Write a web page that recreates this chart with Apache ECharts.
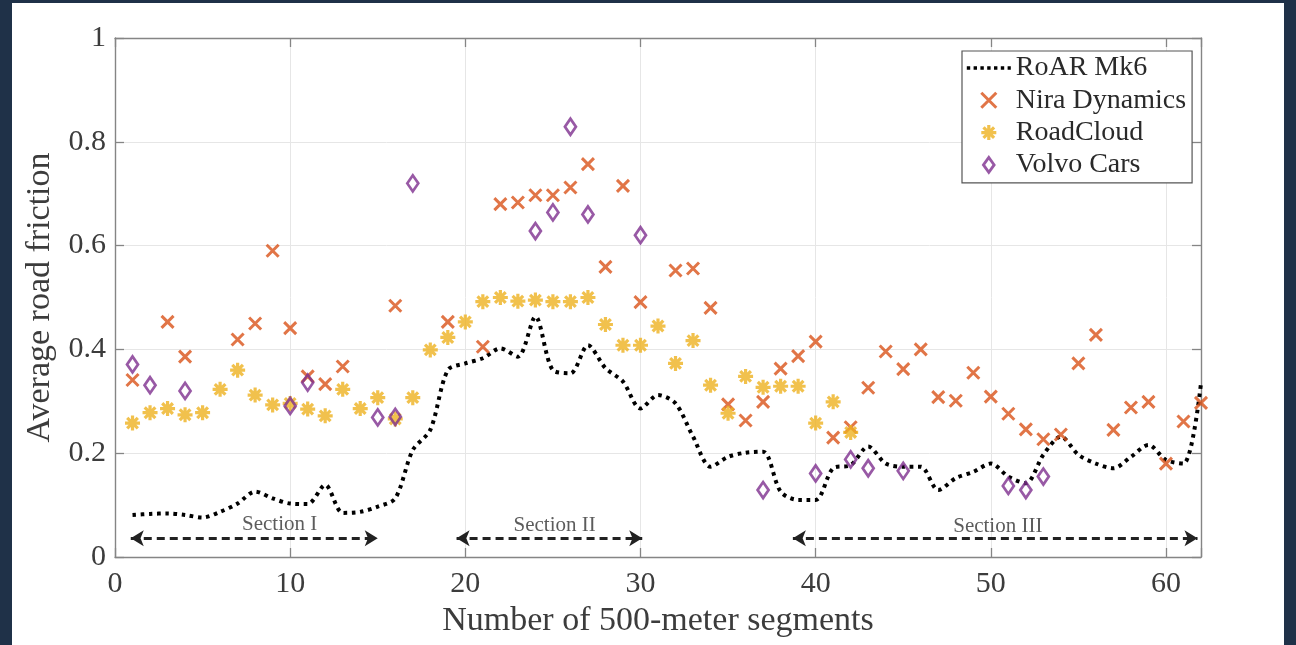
<!DOCTYPE html>
<html>
<head>
<meta charset="utf-8">
<script src="https://cdn.jsdelivr.net/npm/echarts@6/dist/echarts.min.js"></script>
<style>
  html, body { margin: 0; padding: 0; width: 1296px; height: 645px; background: #1f3148; overflow: hidden; }
  #chart { position: absolute; left: 12px; top: 3px; width: 1272px; height: 642px; background: #ffffff; }
</style>
</head>
<body>
<div id="chart"></div>
<script>
// ---- data ----
const xTicks = [0, 10, 20, 30, 40, 50, 60];
const yTicks = [0, 0.2, 0.4, 0.6, 0.8, 1];

const roarMk6 = [
  [1,0.081],[2,0.083],[3,0.084],[4,0.081],[5,0.076],[6,0.087],[7,0.103],[8,0.126],[9,0.113],[10,0.103],
  [11,0.102],[12,0.139],[13,0.085],[14,0.087],[15,0.097],[16,0.113],[17,0.206],[18,0.245],[19,0.360],[20,0.373],
  [21,0.383],[22,0.402],[23,0.386],[24,0.463],[25,0.360],[26,0.354],[27,0.408],[28,0.364],[29,0.338],[30,0.286],
  [31,0.312],[32,0.296],[33,0.232],[34,0.174],[35,0.193],[36,0.201],[37,0.203],[38,0.126],[39,0.110],[40,0.110],
  [41,0.171],[42,0.177],[43,0.213],[44,0.180],[45,0.174],[46,0.174],[47,0.129],[48,0.152],[49,0.164],[50,0.180],
  [51,0.155],[52,0.142],[53,0.197],[54,0.232],[55,0.197],[56,0.180],[57,0.171],[58,0.193],[59,0.216],[60,0.187],
  [61,0.180],[62,0.335]
];

const niraDynamics = [
  [1,0.341],[3,0.453],[4,0.386],[7,0.419],[8,0.450],[9,0.590],[10,0.441],[11,0.348],[12,0.333],[13,0.367],
  [16,0.484],[19,0.453],[21,0.405],[22,0.680],[23,0.683],[24,0.697],[25,0.697],[26,0.712],[27,0.757],[28,0.559],
  [29,0.715],[30,0.491],[32,0.552],[33,0.556],[34,0.480],[35,0.294],[36,0.263],[37,0.299],[38,0.363],[39,0.387],
  [40,0.415],[41,0.230],[42,0.250],[43,0.326],[44,0.396],[45,0.362],[46,0.400],[47,0.308],[48,0.301],[49,0.355],
  [50,0.309],[51,0.276],[52,0.246],[53,0.227],[54,0.236],[55,0.373],[56,0.428],[57,0.245],[58,0.288],[59,0.299],
  [60,0.180],[61,0.261],[62,0.297]
];

const roadCloud = [
  [1,0.258],[2,0.278],[3,0.286],[4,0.274],[5,0.278],[6,0.323],[7,0.360],[8,0.312],[9,0.293],[10,0.296],
  [11,0.285],[12,0.272],[13,0.323],[14,0.286],[15,0.307],[16,0.266],[17,0.307],[18,0.399],[19,0.423],[20,0.453],
  [21,0.492],[22,0.500],[23,0.493],[24,0.495],[25,0.492],[26,0.492],[27,0.500],[28,0.448],[29,0.408],[30,0.408],
  [31,0.445],[32,0.373],[33,0.417],[34,0.331],[35,0.277],[36,0.348],[37,0.327],[38,0.329],[39,0.329],[40,0.258],
  [41,0.299],[42,0.240]
];

const volvoCars = [
  [1,0.371],[2,0.331],[4,0.320],[10,0.291],[11,0.336],[15,0.269],[16,0.270],[17,0.720],[24,0.628],[25,0.664],
  [26,0.829],[27,0.660],[30,0.620],[37,0.129],[40,0.161],[42,0.188],[43,0.171],[45,0.166],[51,0.137],[52,0.129],
  [53,0.155]
];

const sectionNames = ['Section I', 'Section II', 'Section III'];
const sectionStart = [0.9, 19.5, 38.7];
const sectionEnd = [15.0, 30.1, 61.8];
const sectionArrowY = 0.036;
const sectionLabelX = [9.4, 25.1, 50.4];
const sectionLabelY = [0.062, 0.060, 0.058];

// ---- styling ----
const FONT = '"Liberation Serif", "DejaVu Serif", serif';
const TXT = '#3c3c3c';
const AX = '#858585';
const GRIDC = '#e6e6e6';
const C_NIRA = '#D95319', C_RC = '#EDB120', C_VOLVO = '#7E2F8E';
const CROSS = 'path://M0,0L10,10M10,0L0,10';
const STAR = 'path://M5,0L5,10M0,5L10,5M1.46,1.46L8.54,8.54M8.54,1.46L1.46,8.54';
const DIAMOND = 'path://M0,8L5,0L10,8L5,16Z';
const DIAMOND_LEG = 'path://M0,7L5,0L10,7L5,14Z';

const chart = echarts.init(document.getElementById('chart'), null, { renderer: 'canvas' });

const commonX = {
  type: 'value', min: 0, max: 62, interval: 10,
  axisLine: { show: true, onZero: false, lineStyle: { color: AX, width: 1.4 } },
  axisTick: { show: true, inside: true, length: 9, lineStyle: { color: AX, width: 1.3 } }
};
const commonY = {
  type: 'value', min: 0, max: 1, interval: 0.2,
  axisLine: { show: true, onZero: false, lineStyle: { color: AX, width: 1.4 } },
  axisTick: { show: true, inside: true, length: 9, lineStyle: { color: AX, width: 1.3 } }
};

const labelData = sectionNames.map((n, i) => ({ name: n, value: [sectionLabelX[i], sectionLabelY[i]] }));
const arrowData = sectionNames.map((n, i) => [
  { coord: [sectionStart[i], sectionArrowY] },
  { coord: [sectionEnd[i], sectionArrowY] }
]);

chart.setOption({
  animation: false,
  backgroundColor: '#ffffff',
  grid: { left: 103, right: 83, top: 35, bottom: 88, show: false },
  xAxis: [
    Object.assign({}, commonX, {
      position: 'bottom',
      name: 'Number of 500-meter segments',
      nameLocation: 'middle', nameGap: 45,
      nameTextStyle: { fontFamily: FONT, fontSize: 34, color: TXT },
      axisLabel: { show: true, margin: 12, fontFamily: FONT, fontSize: 30, color: TXT,
        customValues: xTicks },
      splitLine: { show: true, lineStyle: { color: GRIDC, width: 1 } }
    }),
    Object.assign({}, commonX, {
      position: 'top', axisLabel: { show: false }, splitLine: { show: false }
    })
  ],
  yAxis: [
    Object.assign({}, commonY, {
      position: 'left',
      name: 'Average road friction',
      nameLocation: 'middle', nameGap: 58,
      nameTextStyle: { fontFamily: FONT, fontSize: 34, color: TXT },
      axisLabel: { show: true, margin: 9, fontFamily: FONT, fontSize: 30, color: TXT,
        formatter: v => String(Math.round(v * 10) / 10) },
      splitLine: { show: true, lineStyle: { color: GRIDC, width: 1 } }
    }),
    Object.assign({}, commonY, {
      position: 'right', axisLabel: { show: false }, splitLine: { show: false }
    })
  ],
  legend: {
    orient: 'vertical',
    left: 950, top: 48,
    padding: [3, 6, 4, 3],
    itemGap: 4.3,
    itemWidth: 44, itemHeight: 15,
    backgroundColor: '#ffffff',
    borderColor: '#555555', borderWidth: 1.2,
    textStyle: { fontFamily: FONT, fontSize: 28, color: '#2a2a2a', lineHeight: 26 },
    data: [
      { name: 'RoAR Mk6',
        itemStyle: { color: 'rgba(0,0,0,0)', borderColor: 'rgba(0,0,0,0)', borderWidth: 0 },
        lineStyle: { width: 3.6, color: '#000000', type: [3.4, 3.4] } },
      { name: 'Nira Dynamics',
        itemStyle: { color: 'rgba(0,0,0,0)', borderColor: C_NIRA, borderWidth: 3 } },
      { name: 'RoadCloud',
        itemStyle: { color: 'rgba(0,0,0,0)', borderColor: C_RC, borderWidth: 3.2 } },
      { name: 'Volvo Cars', icon: DIAMOND_LEG,
        itemStyle: { color: 'rgba(0,0,0,0)', borderColor: C_VOLVO, borderWidth: 2.8 } }
    ]
  },
  series: [
    {
      name: 'RoAR Mk6', type: 'line', data: roarMk6, smooth: 0.3,
      symbol: 'none', showSymbol: false,
      lineStyle: { color: '#000000', width: 4, type: [3.6, 4.6], cap: 'butt' },
      itemStyle: { color: '#000000' },
      z: 2
    },
    {
      name: 'Nira Dynamics', type: 'scatter', data: niraDynamics,
      symbol: CROSS, symbolSize: 12,
      itemStyle: { color: 'rgba(0,0,0,0)', borderColor: C_NIRA, borderWidth: 3 },
      z: 3
    },
    {
      name: 'RoadCloud', type: 'scatter', data: roadCloud,
      symbol: STAR, symbolSize: 15,
      itemStyle: { color: 'rgba(0,0,0,0)', borderColor: C_RC, borderWidth: 3.2 },
      z: 4
    },
    {
      name: 'Volvo Cars', type: 'scatter', data: volvoCars,
      symbol: DIAMOND, symbolSize: [11, 16],
      itemStyle: { color: 'rgba(0,0,0,0)', borderColor: C_VOLVO, borderWidth: 2.8 },
      z: 5
    },
    {
      name: 'sections', type: 'scatter', data: labelData,
      symbolSize: 0, silent: true, z: 6,
      label: { show: true, position: 'inside', formatter: p => p.name,
        fontFamily: FONT, fontSize: 21, color: '#333333' },
      markLine: {
        silent: true, animation: false,
        symbol: ['arrow', 'arrow'], symbolSize: [12, 13],
        label: { show: false },
        lineStyle: { color: '#222222', width: 3, type: [8, 5] },
        data: arrowData
      }
    }
  ]
});
</script>
</body>
</html>
